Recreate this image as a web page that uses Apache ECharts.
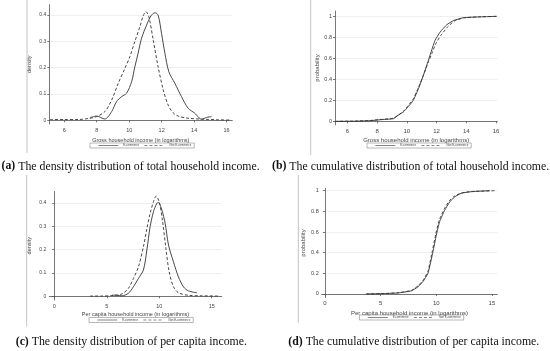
<!DOCTYPE html>
<html><head><meta charset="utf-8">
<script src="https://cdn.jsdelivr.net/npm/echarts@6/dist/echarts.min.js"></script>
<style>html,body{margin:0;padding:0;background:#fff}#c{width:550px;height:351px}</style>
</head><body><div id="c"></div>
<script>
// ---- Data ----
const seriesNames = ['E-commerce', 'Non E-commerce'];

// (a) density, gross household income
const aEcomX = [7.58, 7.99, 8.5, 8.92, 9.22, 9.53, 9.84, 10.15, 10.35, 10.55, 10.76, 11.07, 11.34, 11.58, 11.78, 11.99, 12.2, 12.44, 12.81, 13.22, 13.63, 14.04, 14.46, 14.76, 15.07];
const aEcomY = [0.01, 0.016, 0.005, 0.033, 0.071, 0.09, 0.103, 0.147, 0.204, 0.255, 0.312, 0.362, 0.397, 0.409, 0.40, 0.331, 0.255, 0.185, 0.141, 0.09, 0.046, 0.027, 0.004, 0.011, 0.014];
const aNonX = [5.12, 6.0, 6.86, 7.5, 7.99, 8.5, 8.92, 9.32, 9.74, 10.04, 10.35, 10.66, 10.86, 11.03, 11.21, 11.48, 11.78, 12.1, 12.4, 12.7, 13.02, 13.63, 14.66, 15.5, 16.2];
const aNonY = [0.003, 0.003, 0.003, 0.007, 0.014, 0.033, 0.077, 0.14, 0.198, 0.242, 0.30, 0.356, 0.397, 0.413, 0.394, 0.305, 0.204, 0.115, 0.058, 0.029, 0.016, 0.008, 0.004, 0.002, 0.001];

// (b) cumulative, gross household income
const bEcomX = [5.29, 6.5, 7.53, 8.2, 9.1, 9.33, 9.77, 10.1, 10.44, 10.78, 11.12, 11.45, 11.68, 11.9, 12.24, 12.69, 13.14, 13.81, 14.94, 16.06];
const bEcomY = [0.0, 0.001, 0.006, 0.015, 0.025, 0.05, 0.09, 0.14, 0.2, 0.31, 0.44, 0.58, 0.68, 0.77, 0.85, 0.92, 0.96, 0.987, 0.995, 1.0];
const bNonX = [5.17, 6.5, 7.53, 8.2, 9.1, 9.4, 9.8, 10.1, 10.44, 10.78, 11.12, 11.45, 11.7, 11.95, 12.3, 12.75, 13.2, 13.81, 14.94, 16.06];
const bNonY = [0.0, 0.002, 0.008, 0.017, 0.03, 0.055, 0.1, 0.15, 0.215, 0.32, 0.44, 0.565, 0.65, 0.74, 0.82, 0.9, 0.955, 0.985, 0.996, 1.0];

// (c) density, per capita income
const cEcomX = [5.48, 6.0, 6.43, 7.06, 7.54, 8.02, 8.49, 8.82, 9.13, 9.45, 9.77, 9.92, 10.25, 10.56, 10.88, 11.35, 11.83, 12.31, 12.79, 13.59];
const cEcomY = [0.005, 0.004, 0.002, 0.013, 0.041, 0.077, 0.113, 0.199, 0.299, 0.363, 0.399, 0.402, 0.37, 0.313, 0.22, 0.148, 0.083, 0.04, 0.023, 0.015];
const cNonX = [3.41, 4.5, 5.48, 6.43, 7.06, 7.54, 8.02, 8.49, 8.82, 9.13, 9.45, 9.7, 9.99, 10.3, 10.63, 10.94, 11.35, 11.83, 12.79, 14.0, 15.65];
const cNonY = [0.001, 0.001, 0.003, 0.01, 0.034, 0.077, 0.127, 0.213, 0.29, 0.356, 0.406, 0.43, 0.406, 0.327, 0.206, 0.106, 0.041, 0.015, 0.004, 0.002, 0.001];

// (d) cumulative, per capita income
const dEcomX = [3.71, 5.36, 6.56, 7.76, 8.36, 8.8, 9.25, 9.7, 10.0, 10.3, 10.75, 11.2, 11.65, 12.25, 13.15, 14.8];
const dEcomY = [0.0, 0.004, 0.01, 0.03, 0.07, 0.12, 0.2, 0.41, 0.57, 0.70, 0.81, 0.89, 0.94, 0.975, 0.99, 1.0];
const dNonX = [3.71, 5.36, 6.56, 7.76, 8.36, 8.8, 9.25, 9.65, 9.95, 10.25, 10.7, 11.15, 11.6, 12.25, 13.15, 15.4];
const dNonY = [0.0, 0.005, 0.012, 0.035, 0.08, 0.13, 0.22, 0.42, 0.58, 0.71, 0.82, 0.9, 0.945, 0.978, 0.992, 1.0];

// ticks & texts
const yTicksDensity = [0, 0.1, 0.2, 0.3, 0.4];
const yTicksProb = [0, 0.2, 0.4, 0.6, 0.8, 1];
const xTicksGross = [6, 8, 10, 12, 14, 16];
const xTicksPerCap = [0, 5, 10, 15];
const xTitleGross = 'Gross household income (in logarithms)';
const xTitlePerCap = 'Per capita household income (in logarithms)';
const yTitleDensity = 'density';
const yTitleProb = 'probability';
const captionLabels = ['(a)', '(b)', '(c)', '(d)'];
const captionTexts = [
  ' The density distribution of total household income.',
  ' The cumulative distribution of total household income.',
  ' The density distribution of per capita income.',
  ' The cumulative distribution of per capita income.'
];

// ---- Layout ----
const panels = [
  {grid:{left:49.3, top:4.6, width:183, height:119.4}, x:[5.08,16.35], y:[-0.014,0.44], xt:xTicksGross, yt:yTicksDensity, xn:xTitleGross, yn:yTitleDensity,
   ser:[[aEcomX,aEcomY],[aNonX,aNonY]], smooth:0.3, leg:{left:90, top:143}, cap:{left:1.5, top:160, fs:11.8}, ynGap:17, xnGap:13, fs:5.5},
  {grid:{left:335, top:11, width:162.3, height:114}, x:[5.17,16.09], y:[-0.035,1.051], xt:xTicksGross, yt:yTicksProb, xn:xTitleGross, yn:yTitleProb,
   ser:[[bEcomX,bEcomY],[bNonX,bNonY]], smooth:0.15, leg:{left:367, top:143}, cap:{left:272, top:160, fs:11.8}, ynGap:15, xnGap:12, fs:6},
  {grid:{left:49.3, top:191.4, width:172.4, height:108.6}, x:[-0.48,15.95], y:[-0.016,0.45], xt:xTicksPerCap, yt:yTicksDensity, xn:xTitlePerCap, yn:yTitleDensity,
   ser:[[cEcomX,cEcomY],[cNonX,cNonY]], smooth:0.3, leg:{left:89, top:317.5}, cap:{left:15.7, top:335.5, fs:11.8}, ynGap:17, xnGap:11, fs:5.5},
  {grid:{left:321.7, top:188.3, width:175.6, height:109.4}, x:[-0.3,15.48], y:[-0.036,1.023], xt:xTicksPerCap, yt:yTicksProb, xn:xTitlePerCap, yn:yTitleProb,
   ser:[[dEcomX,dEcomY],[dNonX,dNonY]], smooth:0.15, leg:{left:359.5, top:315}, cap:{left:288.3, top:335.5, fs:11.8}, ynGap:15, xnGap:12.5, fs:6}
];

const FONT = 'Liberation Sans';
const axisColor = '#555';
const grids = [], xAxes = [], yAxes = [], series = [], legends = [], titles = [];

panels.forEach((p, i) => {
  grids.push(Object.assign({containLabel:false}, p.grid));
  xAxes.push({
    type:'value', gridIndex:i, min:p.x[0], max:p.x[1],
    axisLine:{show:true, lineStyle:{color:axisColor, width:0.8}},
    axisTick:{show:true, length:2, customValues:p.xt, lineStyle:{color:axisColor, width:0.8}},
    axisLabel:{customValues:p.xt, fontSize:p.fs, color:'#444', margin:3, fontFamily:FONT},
    splitLine:{show:false},
    name:p.xn, nameLocation:'middle', nameGap:p.xnGap,
    nameTextStyle:{fontSize:p.fs, color:'#444', fontFamily:FONT}
  });
  yAxes.push({
    type:'value', gridIndex:i, min:p.y[0], max:p.y[1],
    axisLine:{show:true, lineStyle:{color:axisColor, width:0.8}},
    axisTick:{show:true, length:2, customValues:p.yt, lineStyle:{color:axisColor, width:0.8}},
    axisLabel:{customValues:p.yt, fontSize:p.fs-0.5, color:'#444', margin:3, fontFamily:FONT},
    splitLine:{show:true, lineStyle:{color:'#e8e8e8', width:0.7}},
    name:p.yn, nameLocation:'middle', nameGap:p.ynGap, nameRotate:90,
    nameTextStyle:{fontSize:p.fs, color:'#444', fontFamily:FONT}
  });
  p.ser.forEach((s, k) => {
    series.push({
      type:'line', name:seriesNames[k], xAxisIndex:i, yAxisIndex:i,
      data:s[0].map((xv, j) => [xv, s[1][j]]),
      symbol:'none', smooth:p.smooth, silent:true, animation:false,
      lineStyle:{color:'#333', width:0.9, type:k === 0 ? 'solid' : [3, 2]},
      itemStyle:{color:'#333'}
    });
  });
  legends.push({
    left:p.leg.left, top:p.leg.top, orient:'horizontal',
    data:seriesNames, itemWidth:20, itemHeight:3, itemGap:5,
    padding:[1, 3, 1, 8], borderColor:'#888', borderWidth:0.6,
    lineStyle:{width:0.6},
    itemStyle:{opacity:0},
    textStyle:{fontSize:2.8, color:'#444', fontFamily:FONT},
    selectedMode:false
  });
  titles.push({
    left:p.cap.left, top:p.cap.top, padding:0,
    text:'{b|' + captionLabels[i] + '}' + captionTexts[i],
    textStyle:{fontFamily:'Liberation Serif', fontSize:p.cap.fs, fontWeight:'normal', color:'#111', lineHeight:p.cap.fs + 1,
      rich:{b:{fontFamily:'Liberation Serif', fontSize:p.cap.fs, fontWeight:'bold', color:'#111'}}}
  });
});

const borderLines = [[27, 0, 153], [310.7, 0, 155], [26.7, 175, 326.7], [298.3, 175, 323]];

const chart = echarts.init(document.getElementById('c'), null, {renderer:'canvas'});
chart.setOption({
  animation:false,
  backgroundColor:'#fff',
  title:titles,
  legend:legends,
  grid:grids,
  xAxis:xAxes,
  yAxis:yAxes,
  series:series,
  graphic:borderLines.map(b => ({type:'line', shape:{x1:b[0], y1:b[1], x2:b[0], y2:b[2]}, style:{stroke:'#c4c4c4', lineWidth:1}, silent:true}))
});
</script></body></html>
